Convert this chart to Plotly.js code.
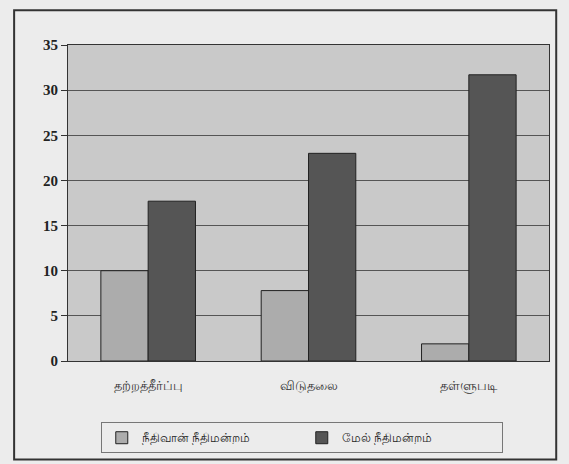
<!DOCTYPE html>
<html>
<head>
<meta charset="utf-8">
<script src="https://cdn.plot.ly/plotly-3.0.1.min.js"></script>
<style>
html,body{margin:0;padding:0;background:#ececec;}
#chart{width:569px;height:464px;}
</style>
</head>
<body>
<div id="chart"></div>
<script>
const categories = ["தற்றத்தீர்ப்பு", "விடுதலை", "தள்ளுபடி"];
const seriesNames = ["நீதிவான் நீதிமன்றம்", "மேல் நீதிமன்றம்"];
const magistrateCourt = [10, 7.8, 1.9];
const highCourt = [17.7, 23, 31.7];
const yTicks = [0, 5, 10, 15, 20, 25, 30, 35];

const traces = [
  {type: "bar", name: seriesNames[0], x: categories, y: magistrateCourt,
   marker: {color: "#acacac", line: {color: "#222", width: 1}}},
  {type: "bar", name: seriesNames[1], x: categories, y: highCourt,
   marker: {color: "#555555", line: {color: "#222", width: 1}}}
];

const layout = {
  width: 569, height: 464,
  paper_bgcolor: "#ececec",
  plot_bgcolor: "#c9c9c9",
  margin: {l: 68, r: 20, t: 45, b: 102},
  barmode: "group", bargap: 0.41, bargroupgap: 0,
  font: {family: "Noto Sans, Liberation Serif, serif", color: "#222"},
  xaxis: {
    showgrid: false, showline: true, linecolor: "#333", linewidth: 1, mirror: true,
    ticks: "", ticklabelstandoff: 12, tickfont: {size: 13, color: "#333"}
  },
  yaxis: {
    range: [0, 35], tickvals: yTicks, showgrid: true, gridcolor: "#555", gridwidth: 1,
    showline: true, linecolor: "#333", linewidth: 1, mirror: true,
    ticks: "outside", ticklen: 6, tickcolor: "#333", zeroline: false,
    tickfont: {family: "Liberation Serif, serif", size: 15, weight: "bold", color: "#222"}
  },
  legend: {
    orientation: "h", x: 0.486, xanchor: "center", y: -0.19, yanchor: "top",
    bgcolor: "#ececec", bordercolor: "#777", borderwidth: 1,
    font: {size: 12, color: "#222"}, entrywidth: 155
  },
  shapes: [
    {type: "rect", xref: "paper", yref: "paper", x0: -0.112, x1: 1.015, y0: -0.312, y1: 1.11,
     line: {color: "#333", width: 2}}
  ]
};

Plotly.newPlot("chart", traces, layout, {displayModeBar: false});
</script>
</body>
</html>
